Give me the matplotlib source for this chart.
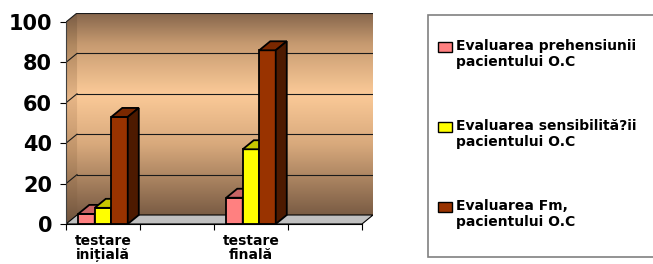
import numpy as np
import matplotlib
matplotlib.use("Agg")
import matplotlib.pyplot as plt
from matplotlib.colors import LinearSegmentedColormap
from matplotlib.patches import Polygon, Rectangle

# date
categories = ["testare\ninițială", "", "testare\nfinală", ""]
prehensiune = [5, np.nan, 13, np.nan]
sensibilitate = [8, np.nan, 37, np.nan]
forta = [53, np.nan, 86, np.nan]
labels = ["Evaluarea prehensiunii\npacientului O.C",
          "Evaluarea sensibilită?ii\npacientului O.C",
          "Evaluarea Fm,\npacientului O.C"]

series = [prehensiune, sensibilitate, forta]
front = ["#FF8080", "#FFFF00", "#993300"]
top = ["#C86464", "#C8C800", "#7A2800"]
side = ["#A04848", "#A0A000", "#4D1A00"]

DX = 0.149   # adancime 3D pe x (unitati categorie)
DY = 4.46    # adancime 3D pe y (unitati valoare)
W = 0.223
n = len(categories)

plt.rcParams['font.family'] = ['DejaVu Sans']
plt.rcParams['font.weight'] = 'bold'

fig = plt.figure(figsize=(6.53, 2.64), dpi=100)
ax = fig.add_axes([66 / 653, 40 / 264, 307 / 653, 211 / 264])
ax.set_xlim(-0.5, n - 0.5 + DX)
ax.set_ylim(0, 100 + DY)

# perete din spate cu gradient
wall = LinearSegmentedColormap.from_list("wall", [
    (0.0, "#7A5C44"), (0.35, "#D8A97C"), (0.6, "#FBCA98"),
    (0.85, "#C69A70"), (1.0, "#86664C")])
grad = np.linspace(0, 1, 256).reshape(-1, 1)
ax.imshow(grad, cmap=wall, origin="lower", aspect="auto",
          extent=(-0.5 + DX, n - 0.5 + DX, DY, 100 + DY), zorder=0)

# perete lateral (mai inchis)
wall2 = LinearSegmentedColormap.from_list("wall2", [
    (0.0, "#6E523C"), (0.35, "#C0946A"), (0.6, "#E6B586"),
    (0.85, "#B08860"), (1.0, "#7A5C44")])
sidewall = Polygon([(-0.5, 0), (-0.5 + DX, DY), (-0.5 + DX, 100 + DY), (-0.5, 100)],
                   closed=True, facecolor="none", edgecolor="none")
ax.add_patch(sidewall)
im = ax.imshow(grad, cmap=wall2, origin="lower", aspect="auto",
               extent=(-0.5, -0.5 + DX, 0, 100 + DY), zorder=0)
im.set_clip_path(sidewall)

# podea
floor = Polygon([(-0.5, 0), (n - 0.5, 0), (n - 0.5 + DX, DY), (-0.5 + DX, DY)],
                closed=True, facecolor="#C0C0C0", edgecolor="black", lw=0.8, zorder=1)
ax.add_patch(floor)

# linii de grila
for v in range(20, 101, 20):
    ax.plot([-0.5 + DX, n - 0.5 + DX], [v + DY, v + DY], color="#1a1a1a", lw=0.8, zorder=1)
    ax.plot([-0.5, -0.5 + DX], [v, v + DY], color="#1a1a1a", lw=0.8, zorder=1)

# bare 3D
x = np.arange(n)
for i, vals in enumerate(series):
    vals = np.asarray(vals, dtype=float)
    pos = x + (i - 1) * W
    ok = ~np.isnan(vals)
    z = 3 + i
    ax.bar(pos[ok], vals[ok], W, color=front[i], edgecolor="black", lw=1.3, zorder=z)
    for p, v in zip(pos[ok], vals[ok]):
        x0, x1 = p - W / 2, p + W / 2
        ax.add_patch(Polygon([(x0, v), (x1, v), (x1 + DX, v + DY), (x0 + DX, v + DY)],
                             closed=True, facecolor=top[i], edgecolor="black", lw=1.3, zorder=z))
        ax.add_patch(Polygon([(x1, 0), (x1 + DX, DY), (x1 + DX, v + DY), (x1, v)],
                             closed=True, facecolor=side[i], edgecolor="black", lw=1.3, zorder=z))

# axe
for s in ["top", "right"]:
    ax.spines[s].set_visible(False)
ax.spines["left"].set_bounds(0, 100)
ax.spines["bottom"].set_bounds(-0.5, n - 0.5)
ax.spines["left"].set_color("#404040")
ax.set_yticks(range(0, 101, 20))
ax.tick_params(axis="y", length=4, pad=6, labelsize=15)
ax.set_xticks(np.arange(-0.5, n, 1.0))
ax.set_xticklabels([])
ax.tick_params(axis="x", which="major", length=4)
ax.set_xticks(x, minor=True)
ax.set_xticklabels(categories, minor=True, fontsize=10, linespacing=1.0)
ax.tick_params(axis="x", which="minor", length=0, pad=7)

# legenda
fig.patches.append(Rectangle((428 / 653, 7 / 264), 240 / 653, 242 / 264,
                             transform=fig.transFigure, facecolor="white",
                             edgecolor="#808080", lw=1.2))
for i, lab in enumerate(labels):
    ytop = 264 - 47 - 80 * i
    fig.patches.append(Rectangle((438 / 653, (ytop - 5) / 264), 14 / 653, 10 / 264,
                                 transform=fig.transFigure, facecolor=front[i],
                                 edgecolor="black", lw=1.0))
    fig.text(456 / 653, (ytop + 8) / 264, lab, fontsize=10, va="top", ha="left",
             linespacing=1.15)

fig.savefig("out.png", dpi=100)
